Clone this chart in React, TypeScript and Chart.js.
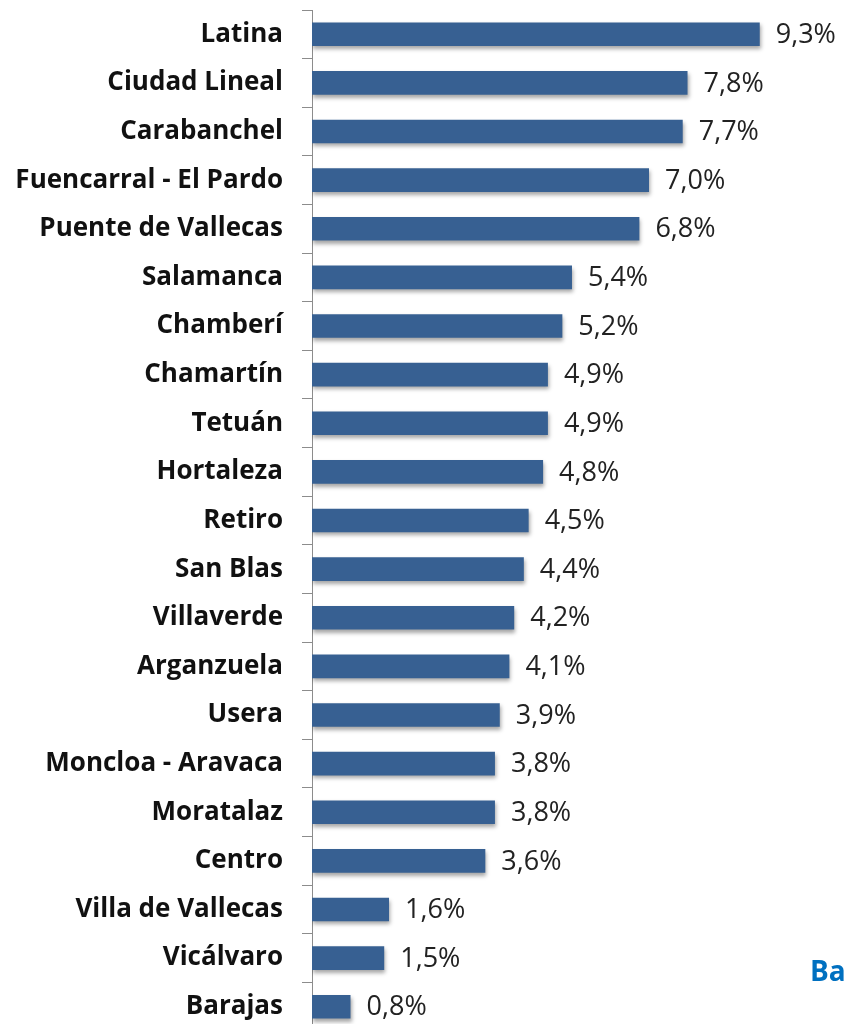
import React, { useEffect, useRef } from "react";
import { Chart, registerables } from "chart.js";

Chart.register(...registerables);

const districts = [
  "Latina",
  "Ciudad Lineal",
  "Carabanchel",
  "Fuencarral - El Pardo",
  "Puente de Vallecas",
  "Salamanca",
  "Chamberí",
  "Chamartín",
  "Tetuán",
  "Hortaleza",
  "Retiro",
  "San Blas",
  "Villaverde",
  "Arganzuela",
  "Usera",
  "Moncloa - Aravaca",
  "Moratalaz",
  "Centro",
  "Villa de Vallecas",
  "Vicálvaro",
  "Barajas",
];

const shares = [9.3, 7.8, 7.7, 7.0, 6.8, 5.4, 5.2, 4.9, 4.9, 4.8, 4.5, 4.4, 4.2, 4.1, 3.9, 3.8, 3.8, 3.6, 1.6, 1.5, 0.8];

const FONT = "'Open Sans', 'Noto Sans', sans-serif";

export default function App() {
  const ref = useRef<HTMLCanvasElement | null>(null);

  useEffect(() => {
    if (!ref.current) return;
    const shadowPlugin = {
      id: "barShadow",
      beforeDatasetsDraw(chart: any) {
        const ctx = chart.ctx;
        ctx.save();
        ctx.shadowColor = "rgba(0,0,0,0.35)";
        ctx.shadowOffsetX = 1;
        ctx.shadowOffsetY = 3;
        ctx.shadowBlur = 4;
      },
      afterDatasetsDraw(chart: any) {
        chart.ctx.restore();
      },
    };
    const valuePlugin = {
      id: "valueLabels",
      afterDatasetsDraw(chart: any) {
        const ctx = chart.ctx;
        const meta = chart.getDatasetMeta(0);
        ctx.save();
        ctx.font = `27px ${FONT}`;
        ctx.fillStyle = "#222";
        ctx.textAlign = "left";
        ctx.textBaseline = "middle";
        meta.data.forEach((bar: any, i: number) => {
          const txt = shares[i].toFixed(1).replace(".", ",") + "%";
          ctx.fillText(txt, bar.x + 16, bar.y + 1);
        });
        ctx.restore();
      },
    };
    const chart = new Chart(ref.current, {
      type: "bar",
      data: {
        labels: districts,
        datasets: [
          {
            data: shares,
            backgroundColor: "#376092",
            borderWidth: 0,
            barPercentage: 0.6,
            categoryPercentage: 0.81,
          },
        ],
      },
      options: {
        indexAxis: "y",
        animation: false,
        responsive: false,
        maintainAspectRatio: false,
        layout: { padding: { top: 10, bottom: 9, right: 0, left: 0 } },
        plugins: {
          legend: { display: false },
          tooltip: { enabled: false },
        },
        scales: {
          x: {
            min: 0,
            max: 11.05,
            display: false,
          },
          y: {
            afterFit(scale: any) {
              scale.width = 312;
              scale.paddingTop = 0;
              scale.paddingBottom = 0;
            },
            grid: {
              drawOnChartArea: false,
              offset: true,
              color: "#8c8c8c",
              tickLength: 10,
              lineWidth: 1,
            },
            border: { display: true, color: "#8c8c8c", width: 1 },
            ticks: {
              padding: 19,
              color: "#111",
              font: { family: FONT, size: 26, weight: "bold" },
            },
          },
        },
      },
      plugins: [shadowPlugin, valuePlugin],
    });
    return () => chart.destroy();
  }, []);

  return (
    <div style={{ position: "absolute", left: 0, top: 0, width: 844, height: 1040, background: "#fff", overflow: "hidden" }}>
      <canvas ref={ref} width={844} height={1040} style={{ display: "block" }} />
      <div
        style={{
          position: "absolute",
          left: 810,
          top: 950,
          fontFamily: FONT,
          fontWeight: "bold",
          fontSize: 28,
          lineHeight: "40px",
          color: "#0070C0",
          whiteSpace: "nowrap",
        }}
      >
        Ba
      </div>
    </div>
  );
}
